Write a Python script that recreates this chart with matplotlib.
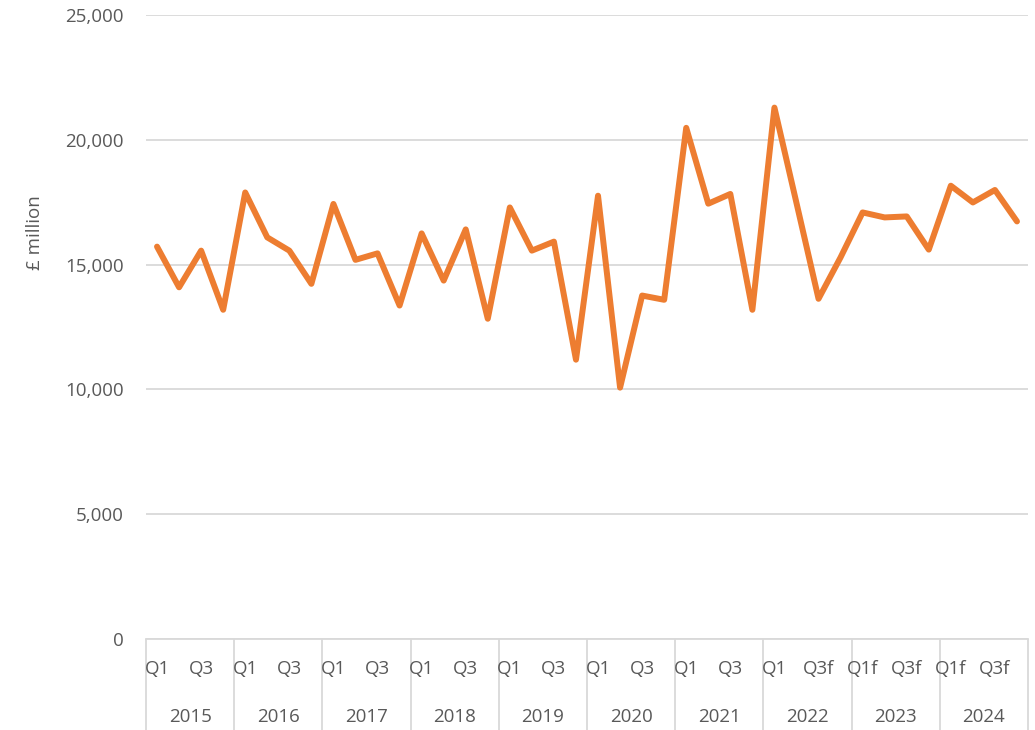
import matplotlib.pyplot as plt
import matplotlib.ticker as mticker
import numpy as np

# Quarterly values, £ million, 2015 Q1 to 2024 Q4 (2022 Q3 onwards are forecasts)
years = ["2015", "2016", "2017", "2018", "2019", "2020", "2021", "2022", "2023", "2024"]
quarters = ["Q1", "Q2", "Q3", "Q4"]
forecast_from = 30  # index of 2022 Q3
values = [
    15720, 14090, 15560, 13190,
    17890, 16090, 15560, 14230,
    17430, 15190, 15450, 13360,
    16250, 14360, 16410, 12830,
    17290, 15560, 15920, 11190,
    17760, 10070, 13760, 13590,
    20480, 17440, 17830, 13190,
    21290, 17470, 13630, 15290,
    17090, 16890, 16930, 15600,
    18160, 17490, 17990, 16730,
]

TEXT = "#595959"
GRID = "#D9D9D9"
ORANGE = "#ED7D31"
plt.rcParams["font.family"] = ["Open Sans", "DejaVu Sans"]

fig = plt.figure(figsize=(10.35, 7.3), dpi=100)
ax = fig.add_axes([146 / 1035, 1 - 639 / 730, 882 / 1035, 624 / 730])

x = np.arange(len(values))
ax.plot(x, values, color=ORANGE, lw=4.3, solid_joinstyle="round",
        solid_capstyle="round", zorder=3)

ax.set_xlim(-0.5, len(values) - 0.5)
ax.set_ylim(0, 25000)
ax.set_yticks(np.arange(0, 25001, 5000))
ax.yaxis.set_major_formatter(mticker.FuncFormatter(lambda v, p: f"{int(v):,}"))
ax.grid(axis="y", color=GRID, lw=1.3)
ax.set_axisbelow(True)
for s in ["top", "right", "left"]:
    ax.spines[s].set_visible(False)
ax.spines["bottom"].set_color(GRID)
ax.spines["bottom"].set_linewidth(1.3)
ax.tick_params(axis="y", length=0, pad=16, labelsize=13.5, labelcolor=TEXT)
ax.set_xticks([])

# two-level category axis: quarter labels (every other one) and years
trans = ax.get_xaxis_transform()
for i in range(len(values)):
    if i % 2:
        continue
    lab = quarters[i % 4] + ("f" if i >= forecast_from else "")
    ax.text(i, -0.048, lab, transform=trans, ha="center", va="center",
            fontsize=13.5, color=TEXT)
for k, yr in enumerate(years):
    ax.text(4 * k + 1.5, -0.125, yr, transform=trans, ha="center", va="center",
            fontsize=13.5, color=TEXT)
bounds = np.arange(0, len(values) + 1, 4) - 0.5
ax.vlines(bounds, 0, -0.146, transform=trans, color=GRID, lw=1.3, clip_on=False)

fig.text(35 / 1035, 1 - 233 / 730, "£ million", rotation=90, ha="center",
         va="center", fontsize=13.5, color=TEXT)

fig.savefig("out.png", dpi=100)
